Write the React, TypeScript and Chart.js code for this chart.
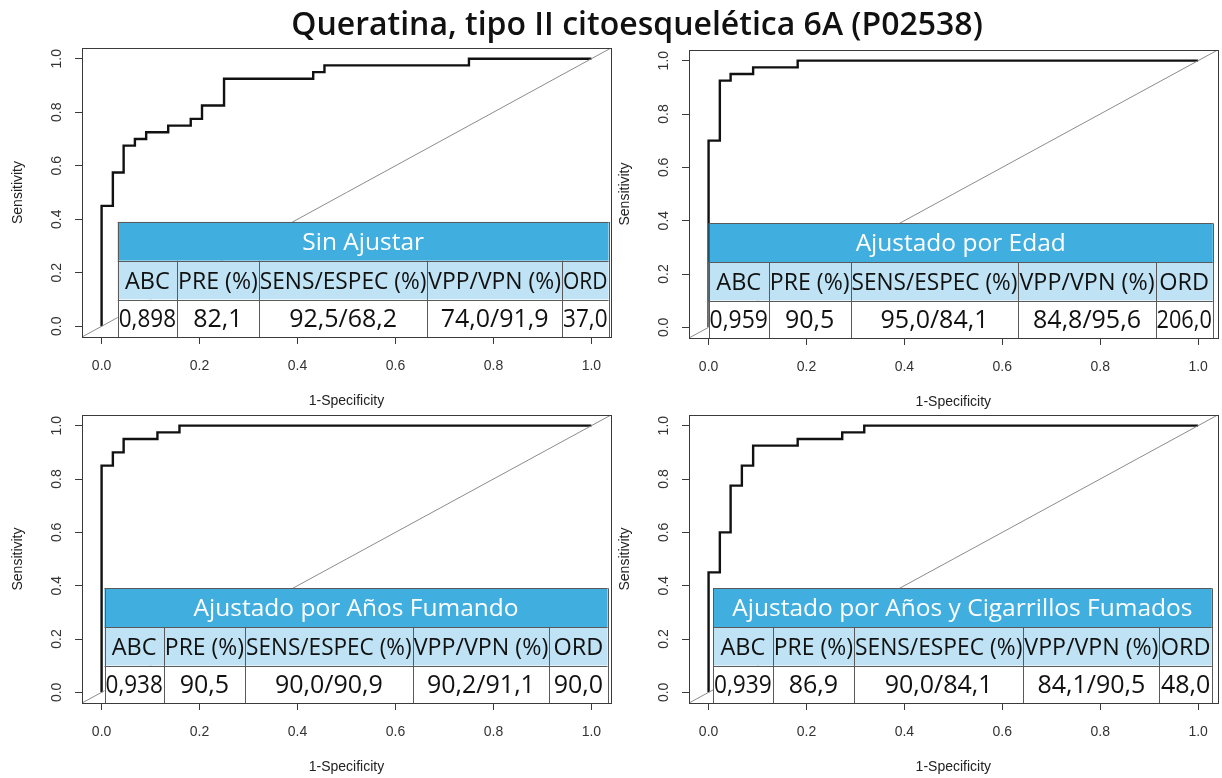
import React, { useEffect, useRef } from "react";
import { Chart, registerables } from "chart.js";

Chart.register(...registerables);

// ---------------- data ----------------
const TITLE = "Queratina, tipo II citoesquelética 6A (P02538)";
const X_LABEL = "1-Specificity";
const Y_LABEL = "Sensitivity";
const AXIS_TICKS = [0, 0.2, 0.4, 0.6, 0.8, 1.0];

// ROC points (1-specificity, sensitivity)
const FPR_SIN = [0, 0, 0.023, 0.045, 0.068, 0.091, 0.136, 0.182, 0.205, 0.25, 0.432, 0.455, 0.75, 1];
const SENS_SIN = [0, 0.45, 0.575, 0.675, 0.7, 0.725, 0.75, 0.775, 0.825, 0.925, 0.95, 0.975, 1, 1];

const FPR_EDAD = [0, 0, 0.023, 0.045, 0.091, 0.182, 1];
const SENS_EDAD = [0, 0.7, 0.925, 0.95, 0.975, 1, 1];

const FPR_FUM = [0, 0, 0.023, 0.045, 0.114, 0.159, 1];
const SENS_FUM = [0, 0.85, 0.9, 0.95, 0.975, 1, 1];

const FPR_CIG = [0, 0, 0.023, 0.045, 0.068, 0.091, 0.182, 0.273, 0.318, 1];
const SENS_CIG = [0, 0.45, 0.6, 0.775, 0.85, 0.925, 0.95, 0.975, 1, 1];

const DIAG_X = [-0.04, 1.04];
const DIAG_Y = [-0.04, 1.04];

const TABLE_HEADERS = ["ABC", "PRE (%)", "SENS/ESPEC (%)", "VPP/VPN (%)", "ORD"];
const PANEL_TITLES = [
  "Sin Ajustar",
  "Ajustado por Edad",
  "Ajustado por Años Fumando",
  "Ajustado por Años y Cigarrillos Fumados",
];
const ROW_SIN = ["0,898", "82,1", "92,5/68,2", "74,0/91,9", "37,0"];
const ROW_EDAD = ["0,959", "90,5", "95,0/84,1", "84,8/95,6", "206,0"];
const ROW_FUM = ["0,938", "90,5", "90,0/90,9", "90,2/91,1", "90,0"];
const ROW_CIG = ["0,939", "86,9", "90,0/84,1", "84,1/90,5", "48,0"];

// ---------------- layout ----------------
const W = 1222;
const H = 778;
const YW = 72; // y-axis box width
const XH = 73; // x-axis box height
const TABLE_ROWS = [0.39, 0.245, 0.1, -0.04];

const PANELS = [
  {
    area: { left: 82, top: 48, right: 611, bottom: 337 },
    fpr: FPR_SIN, sens: SENS_SIN, title: PANEL_TITLES[0], row: ROW_SIN,
    cols: [0.033, 0.154, 0.321, 0.665, 0.94, 1.035],
  },
  {
    area: { left: 689, top: 50, right: 1218, bottom: 338 },
    fpr: FPR_EDAD, sens: SENS_EDAD, title: PANEL_TITLES[1], row: ROW_EDAD,
    cols: [0.0, 0.123, 0.29, 0.633, 0.913, 1.03],
  },
  {
    area: { left: 82, top: 415, right: 611, bottom: 703 },
    fpr: FPR_FUM, sens: SENS_FUM, title: PANEL_TITLES[2], row: ROW_FUM,
    cols: [0.006, 0.127, 0.293, 0.635, 0.914, 1.033],
  },
  {
    area: { left: 689, top: 415, right: 1218, bottom: 703 },
    fpr: FPR_CIG, sens: SENS_CIG, title: PANEL_TITLES[3], row: ROW_CIG,
    cols: [0.009, 0.131, 0.297, 0.643, 0.921, 1.028],
  },
];

const AXIS_FONT = "'Liberation Sans', Arial, sans-serif";
const TABLE_FONT = "'Open Sans', 'Noto Sans', sans-serif";
const HEADER_BLUE = "#41aee0";
const SUB_BLUE = "#bfe3f4";
const LINE_GREY = "#5a5a5a";

function cellText(ctx: CanvasRenderingContext2D, text: string, cx: number, cy: number, size: number, color: string, maxW: number, weight = "normal") {
  ctx.font = `${weight} ${size}px ${TABLE_FONT}`;
  ctx.fillStyle = color;
  ctx.textAlign = "center";
  ctx.textBaseline = "alphabetic";
  ctx.fillText(text, cx, cy + size * 0.357, maxW);
}

function makePlugin(p: any, withTitle: boolean) {
  return {
    id: "panelDecor",
    afterDraw(chart: any) {
      const ctx: CanvasRenderingContext2D = chart.ctx;
      const xs = chart.scales.x;
      const ys = chart.scales.y;
      const ca = chart.chartArea;
      ctx.save();

      // y tick labels (rotated, like R)
      ctx.font = `14px ${AXIS_FONT}`;
      ctx.fillStyle = "#333";
      ctx.textAlign = "center";
      ctx.textBaseline = "middle";
      for (const v of AXIS_TICKS) {
        const py = ys.getPixelForValue(v);
        ctx.save();
        ctx.translate(ca.left - 25, py);
        ctx.rotate(-Math.PI / 2);
        ctx.fillText(v.toFixed(1), 0, 0);
        ctx.restore();
      }

      // table
      const X = p.cols.map((v: number) => xs.getPixelForValue(v));
      const Y = TABLE_ROWS.map((v) => ys.getPixelForValue(v));
      const x0 = X[0];
      const x5 = X[X.length - 1];
      ctx.fillStyle = HEADER_BLUE;
      ctx.fillRect(x0, Y[0], x5 - x0, Y[1] - Y[0]);
      ctx.fillStyle = SUB_BLUE;
      ctx.fillRect(x0, Y[1], x5 - x0, Y[2] - Y[1]);
      ctx.fillStyle = "#ffffff";
      ctx.fillRect(x0, Y[2], x5 - x0, Y[3] - Y[2]);

      ctx.strokeStyle = LINE_GREY;
      ctx.lineWidth = 1;
      ctx.beginPath();
      for (const y of Y) {
        const yy = Math.round(y) + 0.5;
        ctx.moveTo(x0, yy);
        ctx.lineTo(x5, yy);
      }
      for (let i = 0; i < X.length; i++) {
        const xx = Math.round(X[i]) + 0.5;
        const yStart = i === 0 || i === X.length - 1 ? Y[0] : Y[1];
        ctx.moveTo(xx, yStart);
        ctx.lineTo(xx, Y[3]);
      }
      ctx.stroke();

      cellText(ctx, p.title, (x0 + x5) / 2, (Y[0] + Y[1]) / 2, 24.5, "#ffffff", x5 - x0 - 6, "500");
      for (let i = 0; i < 5; i++) {
        const cx = (X[i] + X[i + 1]) / 2;
        const w = X[i + 1] - X[i] - 2;
        cellText(ctx, TABLE_HEADERS[i], cx, (Y[1] + Y[2]) / 2, 23.5, "#111", w);
        cellText(ctx, p.row[i], cx, (Y[2] + Y[3]) / 2, 25, "#111", w);
      }

      // plot box
      ctx.strokeStyle = "#3a3a3a";
      ctx.lineWidth = 1;
      ctx.strokeRect(Math.round(ca.left) + 0.5, Math.round(ca.top) + 0.5, Math.round(ca.right - ca.left), Math.round(ca.bottom - ca.top));

      if (withTitle) {
        ctx.font = `600 32px ${TABLE_FONT}`;
        ctx.fillStyle = "#111";
        ctx.textAlign = "center";
        ctx.textBaseline = "alphabetic";
        ctx.fillText(TITLE, 637, 35, 700);
      }
      ctx.restore();
    },
  };
}

function buildConfig(p: any, withTitle: boolean): any {
  const a = p.area;
  const tickFormat = (v: any) => Number(v).toFixed(1);
  return {
    type: "scatter",
    data: {
      datasets: [
        {
          data: DIAG_X.map((x, i) => ({ x, y: DIAG_Y[i] })),
          showLine: true,
          borderColor: "#8c8c8c",
          borderWidth: 1,
          pointRadius: 0,
          fill: false,
        },
        {
          data: p.fpr.map((x: number, i: number) => ({ x, y: p.sens[i] })),
          showLine: true,
          stepped: "before",
          borderColor: "#111111",
          borderWidth: 2.4,
          pointRadius: 0,
          fill: false,
        },
      ],
    },
    options: {
      responsive: false,
      animation: false,
      devicePixelRatio: 1,
      events: [],
      layout: {
        padding: {
          left: a.left - YW,
          top: a.top,
          right: W - a.right,
          bottom: H - a.bottom - XH,
        },
      },
      plugins: {
        legend: { display: false },
        tooltip: { enabled: false },
        title: { display: false },
      },
      scales: {
        x: {
          type: "linear",
          min: -0.04,
          max: 1.04,
          afterBuildTicks: (s: any) => {
            s.ticks = AXIS_TICKS.map((v) => ({ value: v }));
          },
          afterFit: (s: any) => {
            s.height = XH;
          },
          grid: { drawOnChartArea: false, drawTicks: true, tickLength: 7, color: "#3a3a3a" },
          border: { display: false },
          ticks: {
            font: { family: AXIS_FONT, size: 14 },
            color: "#333",
            padding: 14,
            maxRotation: 0,
            minRotation: 0,
            autoSkip: false,
            callback: tickFormat,
          },
          title: {
            display: true,
            text: X_LABEL,
            font: { family: AXIS_FONT, size: 14 },
            color: "#222",
            padding: { top: 0, bottom: 0 },
          },
        },
        y: {
          type: "linear",
          min: -0.04,
          max: 1.04,
          afterBuildTicks: (s: any) => {
            s.ticks = AXIS_TICKS.map((v) => ({ value: v }));
          },
          afterFit: (s: any) => {
            s.width = YW;
          },
          grid: { drawOnChartArea: false, drawTicks: true, tickLength: 7, color: "#3a3a3a" },
          border: { display: false },
          ticks: {
            font: { family: AXIS_FONT, size: 14 },
            color: "rgba(0,0,0,0)",
            padding: 6,
            autoSkip: false,
            callback: tickFormat,
          },
          title: {
            display: true,
            text: Y_LABEL,
            font: { family: AXIS_FONT, size: 14 },
            color: "#222",
            padding: { top: 0, bottom: 0 },
          },
        },
      },
    },
    plugins: [makePlugin(p, withTitle)],
  };
}

function Panel({ p, withTitle }: { p: any; withTitle: boolean }) {
  const ref = useRef<HTMLCanvasElement | null>(null);
  useEffect(() => {
    if (!ref.current) return;
    const chart = new Chart(ref.current, buildConfig(p, withTitle));
    return () => chart.destroy();
  }, [p, withTitle]);
  return (
    <canvas
      ref={ref}
      width={W}
      height={H}
      style={{ position: "absolute", left: 0, top: 0, width: W, height: H }}
    />
  );
}

export default function App() {
  return (
    <div
      style={{
        position: "fixed",
        left: 0,
        top: 0,
        width: W,
        height: H,
        background: "#ffffff",
        overflow: "hidden",
      }}
    >
      {PANELS.map((p, i) => (
        <Panel key={i} p={p} withTitle={i === 0} />
      ))}
    </div>
  );
}
